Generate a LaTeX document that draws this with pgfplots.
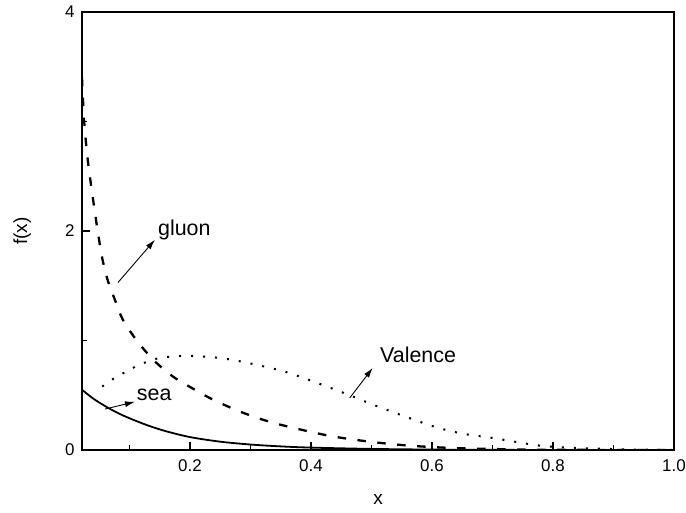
\documentclass[border=0pt]{standalone}
\usepackage{pgfplots}
\pgfplotsset{compat=1.18}
\usepackage{fontspec}
\setmainfont{Liberation Sans}
\usetikzlibrary{arrows.meta}
\begin{document}
\begin{tikzpicture}
\begin{axis}[
  scale only axis, width=592bp, height=438bp,
  xmin=0.0215, xmax=1.0, ymin=0, ymax=4,
  xtick={0.2,0.4,0.6,0.8,1.0},
  xticklabels={0.2,0.4,0.6,0.8,1.0},
  ytick={0,2,4},
  minor xtick={0.1,0.3,0.5,0.7,0.9},
  minor ytick={1,3},
  tick align=inside, tick pos=left,
  major tick length=8bp, minor tick length=5bp,
  axis line style={line width=2bp},
  every tick/.style={line width=1.5bp, black},
  /pgf/number format/assume math mode=true,
  tick label style={font=\fontsize{17}{19}\selectfont},
  xticklabel style={yshift=-6bp},
  yticklabel style={xshift=-4bp},
  xlabel={x}, ylabel={f(x)},
  xlabel style={font=\fontsize{19}{22}\selectfont, at={(axis description cs:0.5,-0.114)}, anchor=center},
  ylabel style={font=\fontsize{19}{22}\selectfont, at={(axis description cs:-0.101,0.5)}, anchor=center},
  clip=true,
]
% gluon
\addplot[black, line width=2.3bp, dash pattern=on 8.5bp off 11.5bp, smooth] coordinates {
(0.0215,3.40) (0.025,3.01) (0.031,2.65) (0.040,2.28) (0.048,1.98) (0.055,1.75)
(0.064,1.55) (0.076,1.37) (0.089,1.19) (0.112,1.00) (0.140,0.82) (0.172,0.67)
(0.205,0.56) (0.238,0.46) (0.283,0.35) (0.33,0.26) (0.365,0.21) (0.40,0.165)
(0.43,0.13) (0.464,0.10) (0.514,0.065) (0.569,0.037) (0.635,0.018) (0.70,0.009)
(0.75,0.004) (0.8,0.002) (0.9,0.0005) (1.0,0)
};
% valence
\addplot[black, line width=2bp, dash pattern=on 2bp off 10bp, smooth] coordinates {
(0.055,0.58) (0.076,0.66) (0.096,0.72) (0.117,0.78) (0.15,0.84) (0.195,0.86)
(0.25,0.84) (0.30,0.79) (0.36,0.71) (0.426,0.58) (0.464,0.50) (0.514,0.39)
(0.60,0.22) (0.65,0.15) (0.70,0.11) (0.778,0.04) (0.833,0.02) (0.89,0.01)
(0.95,0.003) (1.0,0)
};
% sea
\addplot[black, line width=1.8bp, smooth] coordinates {
(0.0215,0.55) (0.04,0.47) (0.06,0.40) (0.08,0.34) (0.1,0.29) (0.13,0.225)
(0.16,0.172) (0.2,0.118) (0.25,0.076) (0.3,0.05) (0.35,0.033) (0.4,0.022)
(0.5,0.01) (0.6,0.004) (0.7,0.0015) (0.8,0.0005) (1.0,0)
};
% annotations
\node[anchor=base west, inner sep=0, font=\fontsize{21.5}{24}\selectfont] at (axis cs:0.147,1.963) {gluon};
\node[anchor=base west, inner sep=0, font=\fontsize{21.5}{24}\selectfont] at (axis cs:0.112,0.45) {sea};
\node[anchor=base west, inner sep=0, font=\fontsize{21.5}{24}\selectfont] at (axis cs:0.514,0.797) {Valence};
\draw[line width=0.9bp, -{Latex[length=10bp,width=6bp]}] (axis cs:0.081,1.53) -- (axis cs:0.142,1.92);
\draw[line width=0.9bp, -{Latex[length=10bp,width=6bp]}] (axis cs:0.0595,0.374) -- (axis cs:0.109,0.44);
\draw[line width=0.9bp, -{Latex[length=10bp,width=6bp]}] (axis cs:0.464,0.475) -- (axis cs:0.502,0.75);
\coordinate (bl) at (rel axis cs:0,0);
\coordinate (tr) at (rel axis cs:1,1);
\end{axis}
\pgfresetboundingbox
\path[use as bounding box] ([xshift=-82bp,yshift=-62bp]bl) rectangle ([xshift=12bp,yshift=12bp]tr);
\end{tikzpicture}
\end{document}
